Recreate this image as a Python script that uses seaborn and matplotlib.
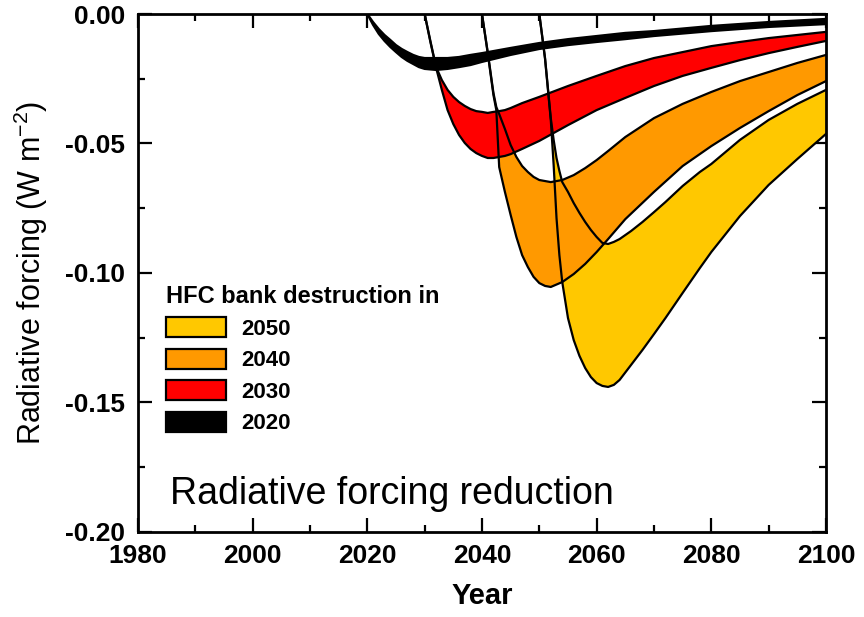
import matplotlib
matplotlib.use("Agg")
import matplotlib.pyplot as plt
import seaborn as sns
from matplotlib.patches import Patch
from matplotlib.ticker import MultipleLocator, FormatStrFormatter

# band edges (W m-2): lower = deeper edge, upper = shallower edge
years_2020 = [2020, 2021, 2022, 2023, 2024, 2025, 2026, 2027, 2028, 2029, 2030, 2032, 2034, 2036,
              2038, 2040, 2045, 2050, 2055, 2060, 2065, 2070, 2080, 2090, 2100]
low_2020 = [0, -.0042, -.0077, -.0104, -.0127, -.0147, -.0166, -.0181, -.0193, -.0205, -.0212, -.0216,
            -.0212, -.0205, -.0197, -.0185, -.0158, -.0135, -.0120, -.0108, -.0097, -.0085, -.0066,
            -.0050, -.0039]
up_2020 = [0, -.0031, -.0058, -.0081, -.0100, -.0120, -.0135, -.0147, -.0158, -.0166, -.0170, -.0170,
           -.0170, -.0166, -.0158, -.0151, -.0131, -.0112, -.0097, -.0085, -.0073, -.0066, -.0046,
           -.0031, -.0019]

years_2030 = [2030, 2031, 2032, 2033, 2034, 2035, 2036, 2037, 2038, 2039, 2040, 2041, 2042, 2043,
              2044, 2045, 2047, 2050, 2055, 2060, 2065, 2070, 2075, 2080, 2085, 2090, 2095, 2100]
low_2030 = [0, -.0108, -.0208, -.0293, -.0371, -.0425, -.0467, -.0498, -.0521, -.0537, -.0548, -.0556,
            -.0556, -.0552, -.0548, -.0541, -.0521, -.0490, -.0429, -.0371, -.0324, -.0278, -.0239,
            -.0208, -.0178, -.0151, -.0127, -.0104]
up_2030 = [0, -.0104, -.0205, -.0255, -.0293, -.0320, -.0340, -.0355, -.0367, -.0375, -.0378, -.0382,
           -.0378, -.0375, -.0371, -.0363, -.0344, -.0320, -.0278, -.0239, -.0201, -.0170, -.0147,
           -.0124, -.0108, -.0093, -.0081, -.0069]

years_2040 = [2040, 2041, 2042, 2042.5, 2043, 2044, 2045, 2046, 2047, 2048, 2049, 2050, 2051, 2052,
              2054, 2056, 2058, 2060, 2062, 2065, 2070, 2075, 2080, 2085, 2090, 2095, 2100]
low_2040 = [0, -.0151, -.0313, -.0371, -.0591, -.0687, -.0776, -.0861, -.0931, -.0977, -.1015, -.1039,
            -.1050, -.1054, -.1035, -.1004, -.0965, -.0919, -.0869, -.0792, -.0687, -.0587, -.0510,
            -.0440, -.0375, -.0313, -.0259]
up_2040 = [0, -.0147, -.0305, -.0359, -.0386, -.0444, -.0506, -.0552, -.0587, -.0610, -.0629, -.0641,
           -.0645, -.0649, -.0641, -.0622, -.0595, -.0564, -.0529, -.0475, -.0402, -.0347, -.0301,
           -.0259, -.0224, -.0189, -.0158]

years_2050 = [2050, 2051, 2052, 2052.5, 2053, 2053.5, 2054, 2055, 2056, 2057, 2058, 2059, 2060, 2061,
              2062, 2063, 2064, 2066, 2068, 2070, 2072, 2075, 2078, 2080, 2085, 2090, 2095, 2100]
low_2050 = [0, -.0174, -.0409, -.0583, -.0788, -.0931, -.1035, -.1174, -.1259, -.1320, -.1367, -.1402,
            -.1425, -.1436, -.1440, -.1432, -.1413, -.1355, -.1297, -.1236, -.1174, -.1077, -.0981,
            -.0919, -.0780, -.0660, -.0560, -.0463]
up_2050 = [0, -.0170, -.0402, -.0486, -.0556, -.0606, -.0649, -.0687, -.0730, -.0768, -.0803, -.0834,
           -.0861, -.0884, -.0888, -.0880, -.0869, -.0838, -.0803, -.0765, -.0726, -.0664, -.0610,
           -.0579, -.0486, -.0409, -.0347, -.0293]

labels = ["2050", "2040", "2030", "2020"]
colors = ["#FFC800", "#FF9900", "#FF0000", "#000000"]
bands = [
    (years_2050, low_2050, up_2050),
    (years_2040, low_2040, up_2040),
    (years_2030, low_2030, up_2030),
    (years_2020, low_2020, up_2020),
]

sns.set_style("ticks")
plt.rcParams["font.family"] = ["Liberation Sans", "DejaVu Sans"]
plt.rcParams["mathtext.default"] = "regular"
plt.rcParams["text.color"] = "black"
plt.rcParams["axes.labelcolor"] = "black"
plt.rcParams["xtick.color"] = "black"
plt.rcParams["ytick.color"] = "black"

fig = plt.figure(figsize=(8.64, 6.17), dpi=100)
ax = fig.add_axes([0.1597, 0.1378, 0.7963, 0.8395])

# oldest scenario drawn first so later ones sit on top
for (yrs, lo, hi), col in zip(bands, colors):
    ax.fill_between(yrs, lo, hi, facecolor=col, edgecolor="none")
    sns.lineplot(x=yrs, y=lo, color="black", linewidth=1.6, ax=ax, legend=False,
                 solid_joinstyle="round")
    sns.lineplot(x=yrs, y=hi, color="black", linewidth=1.6, ax=ax, legend=False,
                 solid_joinstyle="round")

ax.set_xlim(1980, 2100)
ax.set_ylim(-0.2, 0.0)
ax.xaxis.set_major_locator(MultipleLocator(20))
ax.xaxis.set_minor_locator(MultipleLocator(10))
ax.yaxis.set_major_locator(MultipleLocator(0.05))
ax.yaxis.set_minor_locator(MultipleLocator(0.025))
ax.yaxis.set_major_formatter(FormatStrFormatter("%.2f"))

ax.tick_params(which="both", direction="in", top=True, right=True, width=1.6, colors="black")
ax.tick_params(which="major", length=10, labelsize=19, pad=9)
ax.tick_params(which="minor", length=5)
for lab in ax.get_xticklabels() + ax.get_yticklabels():
    lab.set_fontweight("bold")
for sp in ax.spines.values():
    sp.set_linewidth(2.0)
    sp.set_color("black")

ax.set_xlabel("Year", fontsize=21, fontweight="bold", labelpad=10)
ax.set_ylabel("Radiative forcing (W m$^{-2}$)", fontsize=22, labelpad=11)

ax.text(0.046, 0.073, "Radiative forcing reduction", transform=ax.transAxes,
        fontsize=27, va="center", ha="left")

handles = [Patch(facecolor=c, edgecolor="black", linewidth=1.6) for c in colors]
ax.legend(handles, labels, title="HFC bank destruction in", loc="upper left",
          bbox_to_anchor=(0.040, 0.476), frameon=False, borderpad=0, borderaxespad=0,
          handlelength=2.7, handleheight=1.0, labelspacing=0.4,
          handletextpad=0.7, alignment="left",
          title_fontproperties={"size": 17, "weight": "bold"},
          prop={"size": 16, "weight": "bold"})

fig.savefig("out.png", dpi=100)
